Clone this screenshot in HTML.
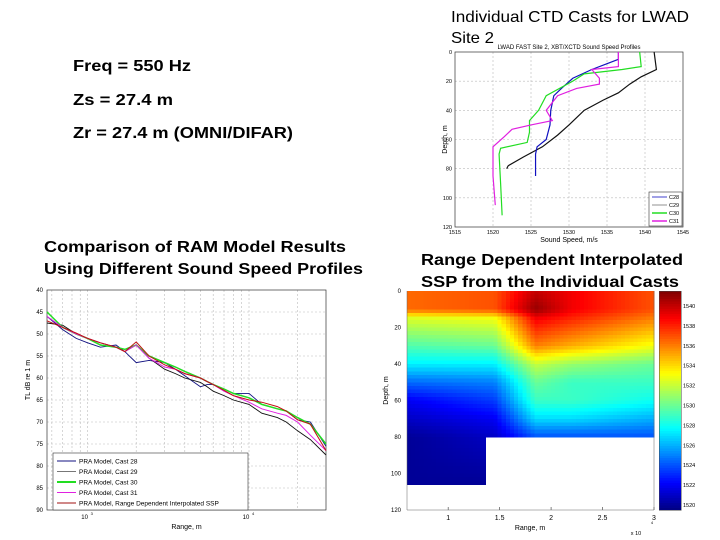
<!DOCTYPE html>
<html><head><meta charset="utf-8"><style>
html,body{margin:0;padding:0;background:#fff;width:720px;height:540px;overflow:hidden}
svg{display:block;font-family:"Liberation Sans",Arial,sans-serif}
</style></head><body>
<svg id="s" width="720" height="540" viewBox="0 0 720 540" xmlns="http://www.w3.org/2000/svg">
<g>
<text x="451" y="22" font-size="16" textLength="238" lengthAdjust="spacingAndGlyphs">Individual CTD Casts for LWAD</text>
<text x="451" y="43" font-size="16" textLength="43" lengthAdjust="spacingAndGlyphs">Site 2</text>
<text x="73" y="71" font-size="16" font-weight="bold" textLength="118" lengthAdjust="spacingAndGlyphs">Freq = 550 Hz</text>
<text x="73" y="105" font-size="16" font-weight="bold" textLength="100" lengthAdjust="spacingAndGlyphs">Zs = 27.4 m</text>
<text x="73" y="138" font-size="16" font-weight="bold" textLength="220" lengthAdjust="spacingAndGlyphs">Zr = 27.4 m (OMNI/DIFAR)</text>
<text x="44" y="252" font-size="16" font-weight="bold" textLength="302" lengthAdjust="spacingAndGlyphs">Comparison of RAM Model Results</text>
<text x="44" y="274" font-size="16" font-weight="bold" textLength="319" lengthAdjust="spacingAndGlyphs">Using Different Sound Speed Profiles</text>
<text x="421" y="265" font-size="16" font-weight="bold" textLength="262" lengthAdjust="spacingAndGlyphs">Range Dependent Interpolated</text>
<text x="421" y="287" font-size="16" font-weight="bold" textLength="258" lengthAdjust="spacingAndGlyphs">SSP from the Individual Casts</text>
</g>
<g id="ctd"></g>
<g id="tl"></g>
<g id="hm"></g>
</svg>
<script>
// ---------- CTD profile data ----------
const ctdNames = ["C28","C29","C30","C31"];
const c28Depth = [0,5,8,12,18,25,30,40,50,60,65,70,85];
const c28Speed = [1536.5,1536.5,1535,1533,1530.5,1529,1528,1527.6,1527.5,1527,1525.8,1525.6,1525.6];
const c29Depth = [0,12,17,22,28,33,40,50,57,65,72,78,80];
const c29Speed = [1541.2,1541.5,1539.5,1538,1536.5,1534.5,1532,1530,1528.5,1526.5,1524,1522,1521.8];
const c30Depth = [0,10,12,15,20,30,40,47,55,62,66,70,90,112];
const c30Speed = [1539.3,1539.5,1537,1532,1530.5,1527,1526,1524.8,1524.8,1524.5,1521,1520.8,1521,1521.2];
const c31Depth = [0,10,12,15,18,22,25,30,40,47,50,53,58,65,85,105];
const c31Speed = [1536.5,1536.5,1533,1533.5,1534,1534,1531,1528.5,1527,1527.8,1525,1522.5,1521.5,1520,1520,1520.3];
const ctdXTicks = [1515,1520,1525,1530,1535,1540,1545];
const ctdYTicks = [0,20,40,60,80,100,120];

// ---------- TL data ----------
const tlRange = [560,700,850,1000,1200,1500,1700,2000,2400,3000,3500,4000,5000,5500,6000,7000,8000,10000,12000,15000,17000,20000,24000,30000];
const tlCast28 = [46,49,51,52,53,52.5,54,56.5,56,56.5,58,59.5,62,61.5,61.5,62.5,63.5,63.5,66,67,67.5,69.5,70,75.5];
const tlCast29 = [47.5,48,50,51,52,53,54,52.5,55.5,58,59,60,61,62,63,64,65,66,68,69,70,72,74,77.5];
const tlCast30 = [45,48.5,50,51,52.5,53,53.5,52.5,55,56.5,57.5,58.5,60,60.8,61.5,62.5,63.5,64.5,66,67,67.5,69,70.5,75];
const tlCast31 = [46,48.5,50,51,52,53,54,52.5,55.5,57.5,58,59,60,60.8,61.5,63,64,65.5,67,68,68.5,70,73,76.5];
const tlInterp = [47,48.5,49.8,51,52,53,54,51.8,55,57,58,59,60,60.8,61.5,62.8,64,65,65.5,66.5,67.5,69.5,70.5,76.5];
const tlLegend = ["PRA Model, Cast 28","PRA Model, Cast 29","PRA Model, Cast 30","PRA Model, Cast 31","PRA Model, Range Dependent Interpolated SSP"];
const tlYTicks = [40,45,50,55,60,65,70,75,80,85,90];

// ---------- Heatmap data ----------
const hmRangeNodes = [0.6,1.45,1.85,2.2,3.0];
const hmDepthNodes = [0,10,15,20,30,40,50,60,70,80,105];
const hmProfile0 = [1536.5,1536.5,1532.5,1531.5,1529.5,1527.5,1524.5,1522,1521,1520,1520];
const hmProfile1 = [1537,1537,1533,1532,1530,1527.5,1525,1523.5,1522,1521,1520];
const hmProfile2 = [1540,1541,1539,1538,1536,1532,1530,1529,1527,1524,1522];
const hmProfile3 = [1539,1539,1538,1537,1535,1531,1529,1529,1527,1524,1522];
const hmProfile4 = [1537,1537,1536,1535,1533,1530,1529,1528,1526,1524,1522];
const hmBottomSplit = 1.38;   // range (x10^4) where bottom rises
const hmBottomDeep = 105, hmBottomShallow = 80;
const hmXTicks = [1,1.5,2,2.5,3];
const hmYTicks = [0,20,40,60,80,100,120];
const hmCbTicks = [1520,1522,1524,1526,1528,1530,1532,1534,1536,1538,1540];

const NS="http://www.w3.org/2000/svg";
function mk(tag,parent,attrs){const e=document.createElementNS(NS,tag);for(const k in attrs)e.setAttribute(k,attrs[k]);parent.appendChild(e);return e;}
function txt(parent,x,y,s,size,anchor){const t=mk('text',parent,{x:x,y:y,'font-size':size,'text-anchor':anchor||'start'});t.textContent=s;return t;}

// ===== CTD chart =====
(function(){
const g=document.getElementById('ctd');
const L=455,R=683,T=52,B=227;
const xs=v=>L+(v-1515)/30*(R-L), ys=d=>T+d/120*(B-T);
const grid=mk('g',g,{});


ctdXTicks.forEach(v=>{
 if(v>1515&&v<1545) mk('line',grid,{x1:xs(v),x2:xs(v),y1:T,y2:B,stroke:'#bbb','stroke-dasharray':'2,2','stroke-width':0.6});
 const t=txt(g,xs(v),B+7,String(v),5.5,'middle');
 
 
});
ctdYTicks.forEach(d=>{
 if(d>0&&d<120) mk('line',grid,{x1:L,x2:R,y1:ys(d),y2:ys(d),stroke:'#bbb','stroke-dasharray':'2,2','stroke-width':0.6});
 const t=txt(g,L-3,ys(d)+2,String(d),5.5,'end');
 
 
});
const box=mk('rect',g,{x:L,y:T,width:R-L,height:B-T,fill:'none',stroke:'#333','stroke-width':0.7});


const ti=txt(g,(L+R)/2,49,'LWAD FAST Site 2, XBT/XCTD Sound Speed Profiles',6,'middle');


const xl=txt(g,(L+R)/2,242,'Sound Speed, m/s',7,'middle');


const yl=txt(g,0,0,'Depth, m',7,'middle');
yl.setAttribute('transform','translate(447,'+((T+B)/2)+') rotate(-90)');


const series=[[c29Depth,c29Speed,'#111'],[c28Depth,c28Speed,'#1010c0'],[c30Depth,c30Speed,'#22dd22'],[c31Depth,c31Speed,'#e020e0']];
series.forEach((s,i)=>{
 const p=mk('polyline',g,{points:s[0].map((d,j)=>xs(s[1][j])+','+ys(d)).join(' '),fill:'none',stroke:s[2],'stroke-width':1.2});
 
 
});
const lg=mk('g',g,{});


mk('rect',lg,{x:649,y:192,width:33,height:34,fill:'#fff',stroke:'#333','stroke-width':0.6});
const lc=['#1010c0','#777','#22dd22','#e020e0'];
ctdNames.forEach((n,i)=>{
 const y=197+i*8;
 mk('line',lg,{x1:652,x2:667,y1:y,y2:y,stroke:lc[i],'stroke-width':i>=2?1.5:0.8});
 const t=txt(lg,669,y+2,n,5.5);
 
 
});
})();

// ===== TL chart =====
(function(){
const g=document.getElementById('tl');
const L=47,R=326,T=290,B=510;
const lx0=Math.log10(560), lx1=Math.log10(30000);
const xs=r=>L+(Math.log10(r)-lx0)/(lx1-lx0)*(R-L), ys=v=>T+(v-40)/50*(B-T);
const grid=mk('g',g,{});


[600,700,800,900,1000,2000,3000,4000,5000,6000,7000,8000,9000,10000,20000].forEach(r=>{
 mk('line',grid,{x1:xs(r),x2:xs(r),y1:T,y2:B,stroke:'#bbb','stroke-dasharray':'2,2','stroke-width':0.6});
});
tlYTicks.forEach(v=>{
 if(v>40&&v<90) mk('line',grid,{x1:L,x2:R,y1:ys(v),y2:ys(v),stroke:'#bbb','stroke-dasharray':'2,2','stroke-width':0.6});
 const t=txt(g,L-4,ys(v)+2,String(v),6,'end');
 
 
});
[[1000,'3'],[10000,'4']].forEach(a=>{
 const t=txt(g,xs(a[0])-3,B+9,'10',6,'middle');
 
 
 txt(g,xs(a[0])+3,B+5,a[1],4,'start');
});
const box=mk('rect',g,{x:L,y:T,width:R-L,height:B-T,fill:'none',stroke:'#333','stroke-width':0.7});


const xl=txt(g,(L+R)/2,529,'Range, m',7,'middle');


const yl=txt(g,0,0,'TL dB re 1 m',7,'middle');
yl.setAttribute('transform','translate(30,'+((T+B)/2-20)+') rotate(-90)');


const cols=['#101080','#111','#22dd22','#e020e0','#c01010'];
const widths=[0.9,0.9,1.5,1,1];
[tlCast28,tlCast29,tlCast30,tlCast31,tlInterp].forEach((s,i)=>{
 const p=mk('polyline',g,{points:tlRange.map((r,j)=>xs(r)+','+ys(s[j])).join(' '),fill:'none',stroke:cols[i],'stroke-width':widths[i]});
 
 
});
const lg=mk('g',g,{});


mk('rect',lg,{x:53,y:453,width:195,height:57,fill:'#fff',stroke:'#333','stroke-width':0.6});
const lc=['#101080','#777','#22dd22','#e020e0','#a01010'];
tlLegend.forEach((n,i)=>{
 const y=461+i*10.5;
 mk('line',lg,{x1:57,x2:76,y1:y,y2:y,stroke:lc[i],'stroke-width':i==2?2:1});
 const t=txt(lg,79,y+2.5,n,6.5);
 
 
});
})();

// ===== Heatmap =====
(function(){
const g=document.getElementById('hm');
const L=407,R=654,T=291,B=510;
const xs=r=>L+(r-0.6)/2.4*(R-L), ys=d=>T+d/120*(B-T);
const profiles=[hmProfile0,hmProfile1,hmProfile2,hmProfile3,hmProfile4];
function interp(xa,ya,x){if(x<=xa[0])return ya[0];for(let i=1;i<xa.length;i++){if(x<=xa[i]){const t=(x-xa[i-1])/(xa[i]-xa[i-1]);return ya[i-1]+t*(ya[i]-ya[i-1]);}}return ya[ya.length-1];}
function jet(v){let t=(v-1519.5)/22;t=Math.max(0,Math.min(1,t));
 const r=Math.max(0,Math.min(1,1.5-Math.abs(4*t-3))),gg=Math.max(0,Math.min(1,1.5-Math.abs(4*t-2))),b=Math.max(0,Math.min(1,1.5-Math.abs(4*t-1)));
 return 'rgb('+Math.round(r*255)+','+Math.round(gg*255)+','+Math.round(b*255)+')';}
const cells=mk('g',g,{'shape-rendering':'crispEdges'});


const dr=0.04, dd=2;
for(let r=0.6;r<3.0-1e-9;r+=dr){
 const rc=r+dr/2;
 const bot=rc<hmBottomSplit?hmBottomDeep:hmBottomShallow;
 const prof=hmDepthNodes.map((d,k)=>interp(hmRangeNodes,profiles.map(p=>p[k]),rc));
 for(let d=0;d<bot-1e-9;d+=dd){
  const v=interp(hmDepthNodes,prof,d+dd/2);
  const c=mk('rect',cells,{x:xs(r).toFixed(2),y:ys(d).toFixed(2),width:(xs(r+dr)-xs(r)+0.6).toFixed(2),height:(ys(d+dd)-ys(d)+0.6).toFixed(2),fill:jet(v)});
  
  
 }
}
hmXTicks.forEach(v=>{
 mk('line',g,{x1:xs(v),x2:xs(v),y1:B,y2:B-3,stroke:'#333','stroke-width':0.6});
 const t=txt(g,xs(v),B+10,String(v),7,'middle');
 
 
});
hmYTicks.forEach(d=>{
 const t=txt(g,L-6,ys(d)+2,String(d),6,'end');
 
 
});
const ax=mk('polyline',g,{points:L+','+T+' '+L+','+B+' '+R+','+B+' '+R+','+T,fill:'none',stroke:'#666','stroke-width':0.5});


const xl=txt(g,530,530,'Range, m',7,'middle');


const ex=txt(g,636,535,'x 10',5.5,'middle');


txt(g,652,524,'4',4,'middle');
const yl=txt(g,0,0,'Depth, m',7,'middle');
yl.setAttribute('transform','translate(388,'+((T+B)/2-10)+') rotate(-90)');


// colorbar
const cb=mk('g',g,{'shape-rendering':'crispEdges'});


const CL=659,CR=681,vs=v=>B-(v-1519.5)/22*(B-T);
for(let v=1519.5;v<1541.5;v+=0.25){mk('rect',cb,{x:CL,y:vs(v+0.25),width:CR-CL,height:(vs(v)-vs(v+0.25)+0.5),fill:jet(v+0.125)});}
mk('rect',cb,{x:CL,y:T,width:CR-CL,height:B-T,fill:'none',stroke:'#444','stroke-width':0.5});
hmCbTicks.forEach(v=>{
 const t=txt(g,CR+2,vs(v)+2,String(v),5.5,'start');
 
 
});
})();
</script>
</body></html>
